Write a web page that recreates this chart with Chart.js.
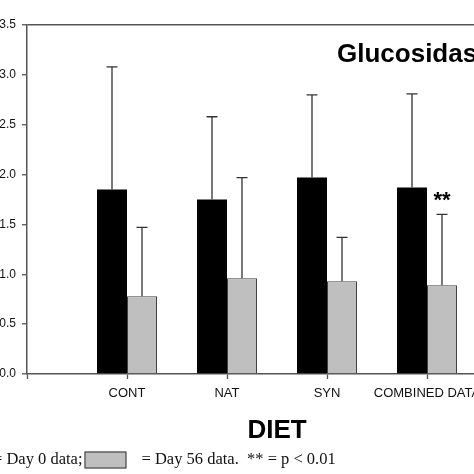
<!DOCTYPE html>
<html><head><meta charset="utf-8">
<script src="https://cdn.jsdelivr.net/npm/chart.js@4.4.1/dist/chart.umd.min.js"></script>
<style>
html,body{margin:0;padding:0;width:474px;height:474px;overflow:hidden;background:#fff;}
#wrap{position:absolute;left:-20px;top:0;width:580px;height:474px;}
</style></head><body>
<div id="wrap"><canvas id="c" width="580" height="474"></canvas></div>
<script>
// ---- data ----
const categories = ['CONT', 'NAT', 'SYN', 'COMBINED DATA'];
const day0Means = [1.85, 1.75, 1.97, 1.87];
const day0SD = [1.23, 0.83, 0.83, 0.94];
const day56Means = [0.78, 0.96, 0.93, 0.89];
const day56SD = [0.69, 1.01, 0.44, 0.71];
const day56Marks = ['', '', '', '**'];
const yTickValues = [0, 0.5, 1.0, 1.5, 2.0, 2.5, 3.0, 3.5];
const chartTitle = 'Glucosidase';
const xAxisTitle = 'DIET';
const legendTexts = ['= Day 0 data;', '= Day 56 data.  ** = p < 0.01'];

// padded with empty slots at both ends (plot frame is wider than the category set)
const labels = [''].concat(categories, ['']);
const pad = a => [null].concat(a, [null]);

const SANS = "'Liberation Sans', Arial, Helvetica, sans-serif";
const SERIF = "'Liberation Serif', 'Times New Roman', serif";
const AXIS = '#555555';

const errorBars = {
  id: 'errorBars',
  afterDatasetsDraw(chart) {
    const ctx = chart.ctx, ys = chart.scales.y;
    ctx.save();
    ctx.strokeStyle = '#333';
    ctx.lineWidth = 1.3;
    chart.data.datasets.forEach((ds, di) => {
      const meta = chart.getDatasetMeta(di);
      meta.data.forEach((el, i) => {
        const v = ds.data[i], e = ds.errors[i];
        if (v == null || e == null) return;
        const yt = ys.getPixelForValue(v + e);
        ctx.beginPath();
        ctx.moveTo(el.x, el.y);
        ctx.lineTo(el.x, yt);
        ctx.moveTo(el.x - 5.5, yt);
        ctx.lineTo(el.x + 5.5, yt);
        ctx.stroke();
        const m = ds.marks && ds.marks[i];
        if (m) {
          ctx.fillStyle = '#000';
          ctx.font = 'bold 22px ' + SANS;
          ctx.textAlign = 'center';
          ctx.textBaseline = 'alphabetic';
          ctx.fillText(m, el.x, yt - 7);
        }
      });
    });
    ctx.restore();
  }
};

const extras = {
  id: 'extras',
  afterDraw(chart) {
    const ctx = chart.ctx, ca = chart.chartArea;
    ctx.save();
    // in-plot title
    ctx.fillStyle = '#000';
    ctx.font = 'bold 26px ' + SANS;
    ctx.textAlign = 'left';
    ctx.textBaseline = 'middle';
    ctx.fillText(chartTitle, ca.left + 310, ca.top + 30);
    // bottom legend line
    ctx.font = '16.5px ' + SERIF;
    ctx.textBaseline = 'alphabetic';
    const baseY = 464;
    const boxW = 42, boxH = 17, gapBox = 15, gapItem = 2;
    const fills = chart.data.datasets.map(d => d.backgroundColor);
    let x = 13 - gapBox - boxW;
    legendTexts.forEach((t, i) => {
      ctx.fillStyle = fills[i];
      ctx.fillRect(x, baseY - 12.5, boxW, boxH);
      ctx.strokeStyle = '#333';
      ctx.lineWidth = 1;
      ctx.strokeRect(x + 0.5, baseY - 12, boxW - 1, boxH - 1);
      x += boxW + gapBox;
      ctx.fillStyle = '#111';
      ctx.fillText(t, x, baseY);
      x += ctx.measureText(t).width + gapItem;
    });
    ctx.restore();
  }
};

new Chart(document.getElementById('c'), {
  type: 'bar',
  data: {
    labels: labels,
    datasets: [
      { label: 'Day 0 data', data: pad(day0Means), errors: pad(day0SD),
        backgroundColor: '#000000', borderColor: '#000000', borderWidth: 0 },
      { label: 'Day 56 data', data: pad(day56Means), errors: pad(day56SD), marks: pad(day56Marks),
        backgroundColor: '#bfbfbf', borderColor: '#404040', borderWidth: 1 }
    ]
  },
  options: {
    responsive: false,
    animation: false,
    devicePixelRatio: 1,
    categoryPercentage: 0.6,
    barPercentage: 1.0,
    layout: { padding: { left: 0, right: 33, top: 25, bottom: 28 } },
    plugins: { legend: { display: false }, tooltip: { enabled: false }, title: { display: false } },
    scales: {
      x: {
        type: 'category',
        offset: false,
        grid: { display: true, offset: false, drawOnChartArea: false, tickColor: AXIS, tickLength: 5, tickWidth: 1.3 },
        border: { display: true, color: AXIS, width: 1.5 },
        ticks: { autoSkip: false, maxRotation: 0, minRotation: 0, padding: 7, color: '#111',
                 font: { family: SANS, size: 13 } },
        title: { display: true, text: xAxisTitle, color: '#000', padding: { top: 0, bottom: 0 },
                 font: { family: SANS, size: 26, weight: 'bold' } },
        afterFit(s) { s.height = 72; }
      },
      y: {
        min: 0, max: 3.5,
        afterBuildTicks(s) { s.ticks = yTickValues.map(v => ({ value: v })); },
        grid: { display: true, drawOnChartArea: true, tickLength: 5, tickColor: AXIS, tickWidth: 1.3,
                lineWidth: 1.5,
                color: c => (c.tick && c.tick.value === 3.5) ? AXIS : 'rgba(0,0,0,0)' },
        border: { display: true, color: AXIS, width: 1.5 },
        ticks: { padding: 6, color: '#111', font: { family: SANS, size: 12 },
                 callback: v => Number(v).toFixed(1) },
        afterFit(s) { s.width = 47; }
      }
    }
  },
  plugins: [errorBars, extras]
});
</script>
</body></html>
